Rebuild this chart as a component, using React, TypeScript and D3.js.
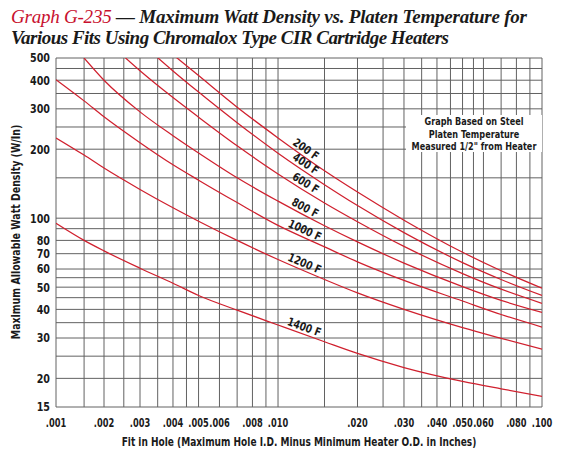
import React from 'react'
import * as d3 from 'd3'

// fit in hole (inches) where the curves were read
const fitX = [0.001, 0.0015, 0.002, 0.003, 0.004, 0.005, 0.007, 0.01, 0.015, 0.02, 0.03, 0.05, 0.07, 0.1]

// max watt density (W/in) per platen temperature, null = off the chart
const temp200 = [null, null, null, null, 517, 419, 305, 224, 161, 130, 98, 71, 59, 49.5]
const temp400 = [null, null, null, 587, 439, 355, 261, 192, 140, 113.5, 86.5, 64, 54, 46]
const temp600 = [null, null, 610, 440, 336, 276, 207, 156, 116.5, 96.5, 75.3, 57.3, 49, 42.5]
const temp800 = [null, 500, 400, 291, 229, 192.5, 150, 118.7, 92.7, 78.8, 63.7, 50.3, 43.8, 38.8]
const temp1000 = [402, 325, 277, 213.5, 171, 146.5, 117, 93, 75, 64.5, 53.5, 43.5, 38, 33.5]
const temp1200 = [224, 188.5, 165.5, 133.5, 111, 97, 80, 66, 54, 47.2, 40, 33.3, 29.9, 26.8]
const temp1400 = [95, 80, 72, 60.5, 52, 46, 39.7, 34.2, 28.9, 25.7, 22.3, 19.4, 18, 16.7]

const seriesNames = ['200 F', '400 F', '600 F', '800 F', '1000 F', '1200 F', '1400 F']
const seriesValues = [temp200, temp400, temp600, temp800, temp1000, temp1200, temp1400]

const xGrid = [
  0.001, 0.0015, 0.002, 0.0025, 0.003, 0.0035, 0.004, 0.0045, 0.005, 0.006, 0.007, 0.008, 0.009, 0.01,
  0.015, 0.02, 0.025, 0.03, 0.035, 0.04, 0.045, 0.05, 0.055, 0.06, 0.07, 0.08, 0.09, 0.1
]
const yGrid = [15, 20, 25, 30, 35, 40, 45, 50, 55, 60, 70, 80, 90, 100, 150, 200, 250, 300, 350, 400, 450, 500]
const xTickValues = [0.001, 0.002, 0.003, 0.004, 0.005, 0.006, 0.008, 0.01, 0.02, 0.03, 0.04, 0.05, 0.06, 0.08, 0.1]
const xTickLabels = ['.001', '.002', '.003', '.004', '.005', '.006', '.008', '.010', '.020', '.030', '.040', '.050', '.060', '.080', '.100']
const yTickValues = [15, 20, 30, 40, 50, 60, 70, 80, 100, 200, 300, 400, 500]
const noteLines = ['Graph Based on Steel', 'Platen Temperature', 'Measured 1/2" from Heater']

const W = 576
const H = 455
const plot = { left: 56, top: 58, right: 542, bottom: 407 }
const sans = "'DejaVu Sans', sans-serif"
const ink = '#1a1a1a'
const red = '#d0202e'
const gridColor = '#626262'

// the printed axis squeezes the first decade, so the log scale is piecewise
const x = d3
  .scaleLog()
  .domain([0.001, 0.002, 0.003, 0.1])
  .range([plot.left, plot.left + 48, plot.left + 84, plot.right])
const y = d3.scaleLog().domain([15, 500]).range([plot.bottom, plot.top])

const line = d3
  .line<[number, number | null]>()
  .defined(d => d[1] !== null)
  .x(d => x(d[0]))
  .y(d => y(d[1] as number))
  .curve(d3.curveMonotoneX)

const labelFor = (vals: (number | null)[]) => {
  // sits on the curve between .010 and .015, tilted with it
  const x1 = x(fitX[7])
  const x2 = x(fitX[8])
  const y1 = y(vals[7] as number)
  const y2 = y(vals[8] as number)
  const px = 302
  const py = y1 + ((px - x1) / (x2 - x1)) * (y2 - y1)
  const angle = (Math.atan2(y2 - y1, x2 - x1) * 180) / Math.PI
  return { px, py, angle }
}

// condensed bold look: squeeze the glyphs horizontally
const Narrow = ({ x: tx, y: ty, rotate = 0, sx = 0.8, anchor = 'start', dy, children }: any) => (
  <g transform={`translate(${tx},${ty}) rotate(${rotate}) scale(${sx},1)`}>
    <text textAnchor={anchor} dy={dy}>
      {children}
    </text>
  </g>
)

const App = () => {
  return (
    <svg width={W} height={H} style={{ position: 'absolute', left: 0, top: 0, background: '#fff' }}>
      <defs>
        <clipPath id='plotClip'>
          <rect x={plot.left} y={plot.top} width={plot.right - plot.left} height={plot.bottom - plot.top} />
        </clipPath>
      </defs>

      <text x={11} y={23} fontFamily="'Liberation Serif', serif" fontStyle='italic' fontSize={19} textLength={516}>
        <tspan fill='#c8102e'>Graph G-235</tspan>
        <tspan fill={ink} fontWeight='bold'> — Maximum Watt Density vs. Platen Temperature for</tspan>
      </text>
      <text
        x={11}
        y={44}
        fontFamily="'Liberation Serif', serif"
        fontStyle='italic'
        fontWeight='bold'
        fontSize={19}
        fill={ink}
        textLength={438}
      >
        Various Fits Using Chromalox Type CIR Cartridge Heaters
      </text>

      <g stroke={gridColor} strokeWidth={1}>
        {xGrid.map(v => (
          <line key={'x' + v} x1={x(v)} x2={x(v)} y1={plot.top} y2={plot.bottom} />
        ))}
        {yGrid.map(v => (
          <line key={'y' + v} x1={plot.left} x2={plot.right} y1={y(v)} y2={y(v)} />
        ))}
      </g>

      <g clipPath='url(#plotClip)' fill='none' stroke={red} strokeWidth={1.25}>
        {seriesValues.map((vals, i) => (
          <path key={seriesNames[i]} d={line(fitX.map((fx, j) => [fx, vals[j]])) || ''} />
        ))}
      </g>

      <g fontFamily={sans} fontWeight='bold' fontSize={11.5} fill={ink}>
        {seriesNames.map((name, i) => {
          const l = labelFor(seriesValues[i])
          return (
            <Narrow key={name} x={l.px} y={l.py} rotate={l.angle} anchor='middle' dy={-3}>
              {name}
            </Narrow>
          )
        })}
      </g>

      <rect x={406} y={115} width={136} height={37} fill='#fff' />
      <g fontFamily={sans} fontWeight='bold' fontSize={11} fill={ink}>
        {noteLines.map((t, i) => (
          <Narrow key={t} x={474} y={125 + i * 12.5} sx={0.74} anchor='middle'>
            {t}
          </Narrow>
        ))}
      </g>

      <g fontFamily={sans} fontWeight='bold' fontSize={12} fill={ink}>
        {yTickValues.map(v => (
          <Narrow key={v} x={50} y={y(v)} dy='0.36em' anchor='end'>
            {v}
          </Narrow>
        ))}
      </g>
      <g fontFamily={sans} fontWeight='bold' fontSize={11.5} fill={ink}>
        {xTickValues.map((v, i) => (
          <Narrow key={v} x={x(v)} y={427} sx={0.72} anchor='middle'>
            {xTickLabels[i]}
          </Narrow>
        ))}
      </g>

      <g fontFamily={sans} fontWeight='bold' fontSize={11.5} fill={ink}>
        <Narrow x={299} y={446} sx={0.785} anchor='middle'>
          Fit in Hole (Maximum Hole I.D. Minus Minimum Heater O.D. in Inches)
        </Narrow>
        <Narrow x={20} y={232} rotate={-90} sx={0.82} anchor='middle'>
          Maximum Allowable Watt Density (W/In)
        </Narrow>
      </g>
    </svg>
  )
}

export default App
